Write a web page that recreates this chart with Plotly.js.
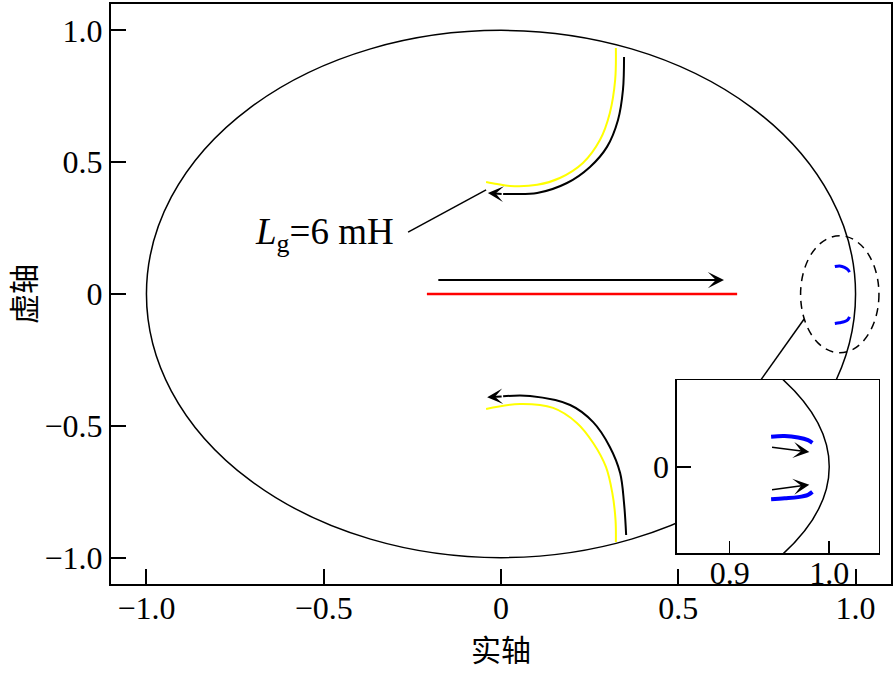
<!DOCTYPE html>
<html>
<head>
<meta charset="utf-8">
<script src="https://cdn.plot.ly/plotly-3.0.1.min.js"></script>
<style>body{margin:0;background:#fff}#chart{width:894px;height:674px}</style>
</head>
<body>
<div id="chart"></div>
<script>
// ---- data ----
var upperYellowX = [0.324, 0.322, 0.307, 0.279, 0.231, 0.166, 0.102, 0.025, -0.011, -0.042];
var upperYellowY = [0.933, 0.812, 0.687, 0.584, 0.497, 0.440, 0.414, 0.410, 0.417, 0.425];
var upperBlackX = [0.347, 0.344, 0.330, 0.299, 0.251, 0.186, 0.102, 0.030, 0.006];
var upperBlackY = [0.899, 0.774, 0.660, 0.558, 0.482, 0.421, 0.383, 0.379, 0.379];
var lowerYellowX = [-0.042, 0.054, 0.147, 0.214, 0.260, 0.296, 0.314, 0.323, 0.324];
var lowerYellowY = [-0.436, -0.417, -0.432, -0.489, -0.565, -0.656, -0.755, -0.857, -0.941];
var lowerBlackX = [0.006, 0.082, 0.195, 0.260, 0.307, 0.336, 0.347, 0.353];
var lowerBlackY = [-0.388, -0.387, -0.421, -0.486, -0.580, -0.679, -0.793, -0.914];
var redX = [-0.209, 0.666];
var redY = [0, 0];
var blueUpperX = [0.9416, 0.9552, 0.9687, 0.9787, 0.9831];
var blueUpperY = [0.104, 0.106, 0.101, 0.092, 0.083];
var blueLowerX = [0.9416, 0.9552, 0.9687, 0.9787, 0.9831];
var blueLowerY = [-0.112, -0.109, -0.105, -0.097, -0.087];
var mainTickVals = [-1, -0.5, 0, 0.5, 1];
var mainTickText = ['\u22121.0', '\u22120.5', '0', '0.5', '1.0'];
var insetXTickVals = [0.9, 1.0];
var insetXTickText = ['0.9', '1.0'];
var insetYTickVals = [0];
var insetYTickText = ['0'];
var labelText = '<i>L</i><sub>g</sub>=6 mH';
var xTitle = '实轴';
var yTitle = '虚轴';

var serif = 'Liberation Serif, Times New Roman, serif';
var cjk = 'Noto Sans CJK SC, sans-serif';

function line(x, y, color, width, xa, ya) {
  return {x: x, y: y, type: 'scatter', mode: 'lines', xaxis: xa || 'x', yaxis: ya || 'y',
    line: {color: color, width: width, shape: 'spline', smoothing: 1}, hoverinfo: 'skip', showlegend: false};
}

var traces = [
  line(upperYellowX, upperYellowY, '#ffff00', 2),
  line(upperBlackX, upperBlackY, '#000000', 2),
  line(lowerYellowX, lowerYellowY, '#ffff00', 2),
  line(lowerBlackX, lowerBlackY, '#000000', 2),
  line(redX, redY, '#ff0000', 2.5),
  line(blueUpperX, blueUpperY, '#0000ff', 3),
  line(blueLowerX, blueLowerY, '#0000ff', 3),
  line(blueUpperX, blueUpperY, '#0000ff', 4, 'x2', 'y2'),
  line(blueLowerX, blueLowerY, '#0000ff', 4, 'x2', 'y2')
];

function arrow(x0, y0, x1, y1, xr, yr, w, s) {
  return {x: x1, y: y1, ax: x0, ay: y0, xref: xr, yref: yr, axref: xr, ayref: yr,
    text: '', showarrow: true, arrowhead: 3, arrowwidth: w, arrowsize: s, arrowcolor: '#000'};
}

var annotations = [
  arrow(-0.181, 0.053, 0.629, 0.053, 'x', 'y', 2, 1.35),
  arrow(upperBlackX[upperBlackX.length - 1], upperBlackY[upperBlackY.length - 1], -0.037, 0.383, 'x', 'y', 2, 1.3),
  arrow(lowerBlackX[0], lowerBlackY[0], -0.039, -0.392, 'x', 'y', 2, 1.3),
  arrow(0.941, 0.068, 0.980, 0.051, 'x2', 'y2', 1.5, 1.8),
  arrow(0.941, -0.080, 0.980, -0.062, 'x2', 'y2', 1.5, 1.8),
  {x: -0.499, y: 0.225, xref: 'x', yref: 'y', text: labelText, showarrow: false,
    font: {family: serif, size: 37, color: '#000'}}
];

var shapes = [
  {type: 'circle', xref: 'x', yref: 'y', x0: -1, x1: 1, y0: -1, y1: 1, layer: 'below',
    line: {color: '#000', width: 1.5}},
  {type: 'circle', xref: 'x2', yref: 'y2', x0: -1, x1: 1, y0: -1, y1: 1, layer: 'below',
    line: {color: '#000', width: 1.5}},
  {type: 'circle', xref: 'x', yref: 'y', x0: 0.845, x1: 1.066, y0: -0.223, y1: 0.221, layer: 'above',
    line: {color: '#000', width: 1.5, dash: '8px,6px'}},
  {type: 'line', xref: 'x', yref: 'y', x0: 0.855, y0: -0.095, x1: 0.728, y1: -0.335, layer: 'below',
    line: {color: '#000', width: 1.5}},
  {type: 'line', xref: 'x', yref: 'y', x0: -0.262, y0: 0.235, x1: -0.042, y1: 0.395, layer: 'above',
    line: {color: '#000', width: 1.5}}
];

var axisCommon = {showgrid: false, zeroline: false, showline: true, mirror: true, linecolor: '#000',
  ticks: 'inside', tickcolor: '#000', tickfont: {family: serif, size: 32, color: '#000'}};

var layout = {
  width: 894, height: 674,
  margin: {l: 111, r: 3, t: 4, b: 90},
  paper_bgcolor: '#fff', plot_bgcolor: '#fff',
  showlegend: false,
  xaxis: Object.assign({}, axisCommon, {range: [-1.1, 1.1], tickvals: mainTickVals, ticktext: mainTickText,
    ticklen: 15, tickwidth: 2, linewidth: 2, ticklabelstandoff: -5,
    title: {text: xTitle, font: {family: cjk, size: 30, color: '#000'}, standoff: 8}}),
  yaxis: Object.assign({}, axisCommon, {range: [-1.1, 1.1], tickvals: mainTickVals, ticktext: mainTickText,
    ticklen: 15, tickwidth: 2, linewidth: 2,
    title: {text: yTitle, font: {family: cjk, size: 30, color: '#000'}, standoff: 20}}),
  xaxis2: Object.assign({}, axisCommon, {domain: [0.7256, 0.9846], anchor: 'y2', range: [0.847, 1.050],
    tickvals: insetXTickVals, ticktext: insetXTickText, ticklen: 12, tickwidth: 1.5, linewidth: 1.5,
    ticklabelstandoff: -9}),
  yaxis2: Object.assign({}, axisCommon, {domain: [0.0526, 0.3517], anchor: 'x2', range: [-0.3, 0.3],
    tickvals: insetYTickVals, ticktext: insetYTickText, ticklen: 14, tickwidth: 1.5, linewidth: 1.5}),
  shapes: shapes,
  annotations: annotations
};

Plotly.newPlot('chart', traces, layout, {displayModeBar: false, staticPlot: true});
</script>
</body>
</html>
